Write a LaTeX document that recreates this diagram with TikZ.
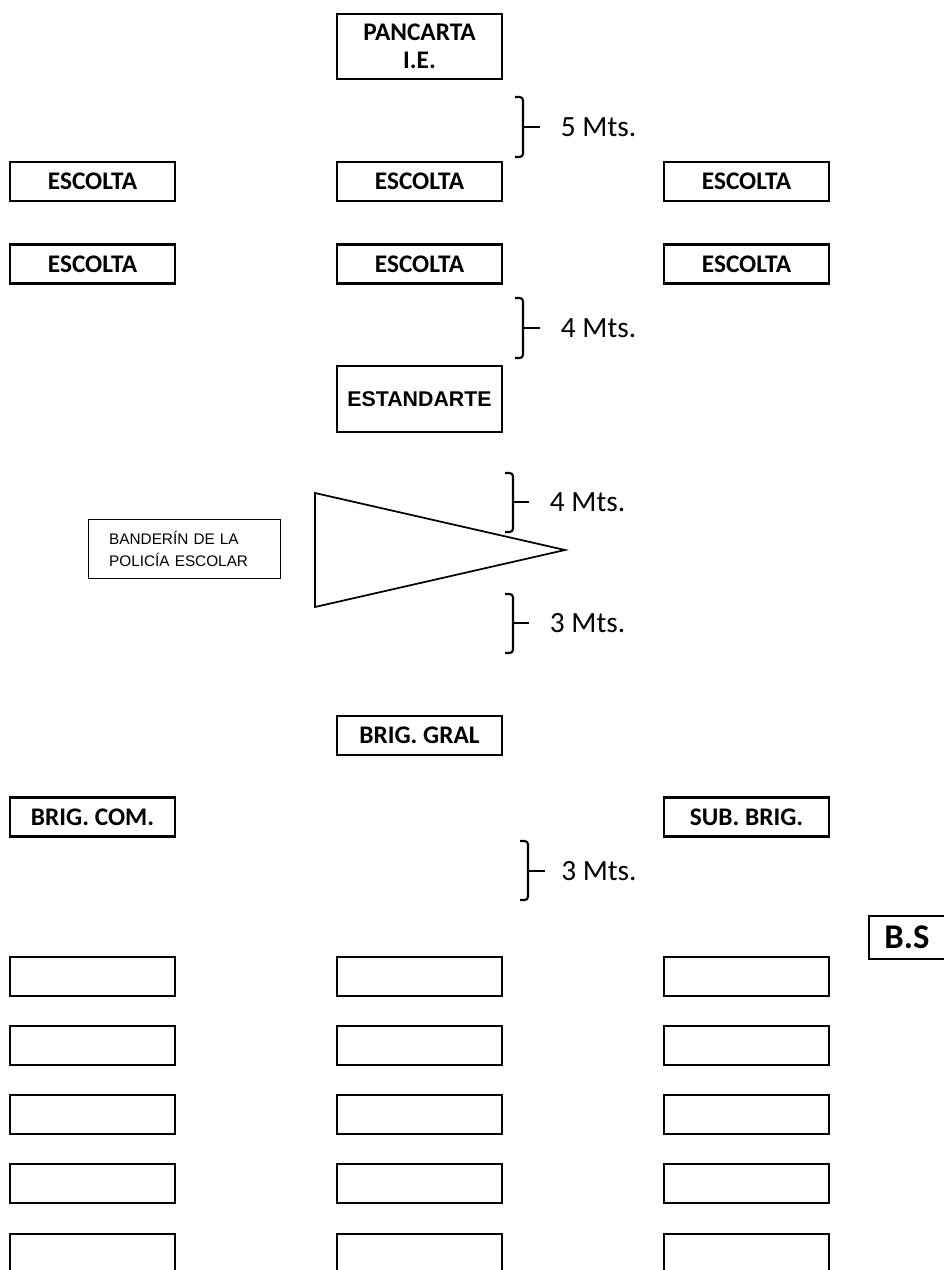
\documentclass[tikz,border=0pt]{standalone}
\usepackage{fontspec}
\setmainfont{Carlito}
\newfontfamily\arialfont{Liberation Sans}
\usetikzlibrary{positioning}
\tikzset{
caja/.style={ % cajas de la formacion
draw,
line width=1.7pt,
inner sep=0pt,
align=center,
minimum width=123.5pt,
minimum height=29.25pt,
font=\bfseries\fontsize{19}{21}\selectfont},
llave/.style={ % corchetes de distancia
line width=1.6pt,
rounded corners=2.5pt},
medida/.style={ % textos de metros
inner sep=0pt,
font=\fontsize{22}{26}\selectfont}}

\begin{document}
\begin{tikzpicture}[x=0.75pt,y=-0.75pt]
\clip (0,0) rectangle (944,1270);
% cabeza
\node[caja, minimum height=48.5pt] (pancarta) at (419.5,46.5) {PANCARTA\\I.E.};
\node[caja] (esc1a) at (92.5,181.5) {ESCOLTA};
\node[caja] (esc1b) at (419.5,181.5) {ESCOLTA};
\node[caja] (esc1c) at (746.5,181.5) {ESCOLTA};
\node[caja] (esc2a) at (92.5,264) {ESCOLTA};
\node[caja] (esc2b) at (419.5,264) {ESCOLTA};
\node[caja] (esc2c) at (746.5,264) {ESCOLTA};
\node[caja, minimum height=49.25pt, font=\arialfont\bfseries\fontsize{16}{18}\selectfont] (estandarte) at (419.5,399) {ESTANDARTE};
% banderin
\node[draw, line width=1pt, inner xsep=15.5pt, inner ysep=0pt, text width=113pt, minimum height=44.5pt, align=left, font=\arialfont\fontsize{11.5}{16.5}\selectfont] (banderin) at (184.5,549) {BANDER\'IN DE LA\\POLIC\'IA ESCOLAR};
\draw[line width=1.3pt] (315,493) -- (315,607) -- (565,550) -- cycle;
% brigadieres
\node[caja] (gral) at (419.5,735.5) {BRIG. GRAL};
\node[caja] (com) at (92.5,817) {BRIG. COM.};
\node[caja] (sub) at (746.5,817) {SUB. BRIG.};
\node[caja, minimum width=57pt, minimum height=32pt, font=\bfseries\fontsize{26}{28}\selectfont] (bs) at (907,937.5) {B.S};
% distancias
\draw[llave] (515,97) -- (523,97) -- (523,157) -- (515,157);
\draw[llave] (523,127) -- (540,127) coordinate (c5);
\node[medida, right=15.5pt of c5] (m5) {5 Mts.};
\draw[llave] (515,298) -- (523,298) -- (523,358) -- (515,358);
\draw[llave] (523,328) -- (540,328) coordinate (c4a);
\node[medida, right=15.5pt of c4a] (m4a) {4 Mts.};
\draw[llave] (505,473) -- (513,473) -- (513,532) -- (505,532);
\draw[llave] (513,502) -- (529,502) coordinate (c4b);
\node[medida, right=15.5pt of c4b] (m4b) {4 Mts.};
\draw[llave] (505,594) -- (513,594) -- (513,653) -- (505,653);
\draw[llave] (513,623) -- (529,623) coordinate (c3a);
\node[medida, right=15.5pt of c3a] (m3a) {3 Mts.};
\draw[llave] (520,841) -- (528,841) -- (528,900) -- (520,900);
\draw[llave] (528,871) -- (545,871) coordinate (c3b);
\node[medida, right=12pt of c3b] (m3b) {3 Mts.};
% filas de la formacion
\node[caja] (f1a) at (92.5,976.5) {};
\node[caja] (f1b) at (419.5,976.5) {};
\node[caja] (f1c) at (746.5,976.5) {};
\node[caja] (f2a) at (92.5,1045.5) {};
\node[caja] (f2b) at (419.5,1045.5) {};
\node[caja] (f2c) at (746.5,1045.5) {};
\node[caja] (f3a) at (92.5,1114.5) {};
\node[caja] (f3b) at (419.5,1114.5) {};
\node[caja] (f3c) at (746.5,1114.5) {};
\node[caja] (f4a) at (92.5,1183.5) {};
\node[caja] (f4b) at (419.5,1183.5) {};
\node[caja] (f4c) at (746.5,1183.5) {};
\node[caja] (f5a) at (92.5,1253.5) {};
\node[caja] (f5b) at (419.5,1253.5) {};
\node[caja] (f5c) at (746.5,1253.5) {};
\end{tikzpicture}
\end{document}
